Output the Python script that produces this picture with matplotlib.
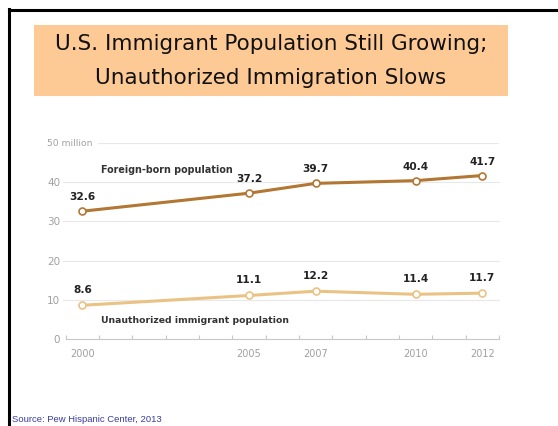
import matplotlib.pyplot as plt
from matplotlib.lines import Line2D
from matplotlib.patches import Rectangle

years = [2000, 2005, 2007, 2010, 2012]
foreign_born = [32.6, 37.2, 39.7, 40.4, 41.7]
unauthorized = [8.6, 11.1, 12.2, 11.4, 11.7]
y_ticks = [0, 10, 20, 30, 40]

W, H = 558, 426
fig = plt.figure(figsize=(W / 100, H / 100), dpi=100)
fig.patch.set_facecolor('white')

# slide border (left and top only, runs off the page)
fig.add_artist(Line2D([9 / W, 9 / W], [0, 1 - 9 / H], color='black', lw=2.2,
                      transform=fig.transFigure))
fig.add_artist(Line2D([9 / W, 1], [1 - 10 / H, 1 - 10 / H], color='black', lw=2.2,
                      transform=fig.transFigure))

# title box
fig.add_artist(Rectangle((34 / W, 1 - 96 / H), (508 - 34) / W, (96 - 25) / H,
                         facecolor='#FDCA96', edgecolor='none', transform=fig.transFigure))
fig.text(271 / W, 1 - 44 / H, 'U.S. Immigrant Population Still Growing;',
         ha='center', va='center', fontsize=15.5, family='DejaVu Sans', color='#111111')
fig.text(271 / W, 1 - 78 / H, 'Unauthorized Immigration Slows',
         ha='center', va='center', fontsize=15.5, family='DejaVu Sans', color='#111111')

# chart
x0, x1 = 65.7, 499
y0, y1 = 339, 143
ax = fig.add_axes([x0 / W, 1 - y0 / H, (x1 - x0) / W, (y0 - y1) / H])
ax.set_xlim(1999.5, 2012.5)
ax.set_ylim(0, 50)
for s in ['top', 'right', 'left']:
    ax.spines[s].set_visible(False)
ax.spines['bottom'].set_color('#C8C8C8')
ax.spines['bottom'].set_linewidth(0.8)

for v in [10, 20, 30, 40]:
    ax.axhline(v, xmin=-0.006, xmax=1, color='#E8E8E8', lw=0.8, zorder=0, clip_on=False)
ax.axhline(50, xmin=(98 - x0) / (x1 - x0), xmax=1, color='#E8E8E8', lw=0.8, zorder=0)
ax.text(-0.044, 50, '50 million', transform=ax.get_yaxis_transform(),
        ha='left', va='center', fontsize=6.6, color='#A0A0A0')

ax.set_yticks(y_ticks)
ax.set_yticklabels([str(t) for t in y_ticks])
ax.tick_params(axis='y', length=0, pad=4, labelsize=7.5, labelcolor='#A0A0A0')

ax.set_xticks(years)
ax.set_xticklabels([str(y) for y in years])
ax.set_xticks([y + 0.5 for y in range(1999, 2013)], minor=True)
ax.tick_params(axis='x', which='major', length=0, pad=7, labelsize=7, labelcolor='#A0A0A0')
ax.tick_params(axis='x', which='minor', length=3, direction='in', color='#C8C8C8', width=0.8)

dark = '#B27733'
light = '#EAC384'
ax.plot(years, foreign_born, color=dark, lw=2.2, marker='o', ms=5,
        mfc='white', mec=dark, mew=1.2, zorder=3)
ax.plot(years, unauthorized, color=light, lw=2.2, marker='o', ms=5,
        mfc='white', mec=light, mew=1.2, zorder=3)

for x, v in zip(years, foreign_born):
    ax.annotate(f'{v}', (x, v), xytext=(0, 10), textcoords='offset points',
                ha='center', va='center', fontsize=7.6, fontweight='bold', color='#222222')
for x, v in zip(years, unauthorized):
    ax.annotate(f'{v}', (x, v), xytext=(0, 11), textcoords='offset points',
                ha='center', va='center', fontsize=7.6, fontweight='bold', color='#222222')

ax.text(2000.55, 43.0, 'Foreign-born population', ha='left', va='center',
        fontsize=6.9, fontweight='bold', color='#333333')
ax.text(2000.55, 4.7, 'Unauthorized immigrant population', ha='left', va='center',
        fontsize=6.7, fontweight='bold', color='#333333')

fig.text(12 / W, 1 - 419 / H, 'Source: Pew Hispanic Center, 2013', ha='left', va='center',
         fontsize=6.8, family='Liberation Sans', color='#3C3CA0')

plt.savefig('out.png', dpi=100)
